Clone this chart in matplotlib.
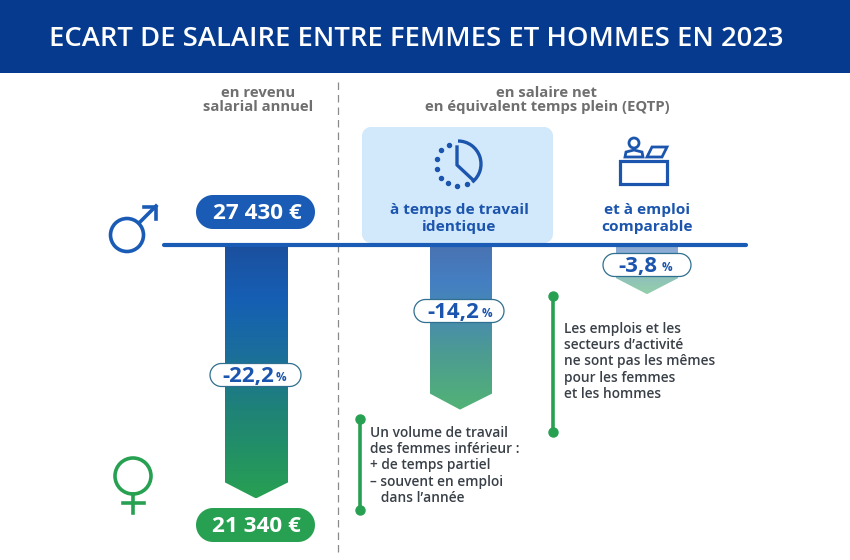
import numpy as np
import matplotlib
matplotlib.use("Agg")
import matplotlib.pyplot as plt
from matplotlib.patches import Polygon, Circle, Rectangle, Arc
from matplotlib.colors import LinearSegmentedColormap

TITLE = "ECART DE SALAIRE ENTRE FEMMES ET HOMMES EN 2023"
gaps = [22.2, 14.2, 3.8]
gap_labels = ["-22,2", "-14,2", "-3,8"]
salary_men = "27 430 €"
salary_women = "21 340 €"
col_heads = ["en revenu\nsalarial annuel", "en salaire net\nen équivalent temps plein (EQTP)"]
sub_heads = ["à temps de travail\nidentique", "et à emploi\ncomparable"]
note_1 = ["Un volume de travail", "des femmes inférieur :", "+ de temps partiel", "– souvent en emploi", "   dans l’année"]
note_2 = ["Les emplois et les", "secteurs d’activité", "ne sont pas les mêmes", "pour les femmes", "et les hommes"]

BLUE = "#1a5bb5"; DARK = "#053a8e"; GREEN = "#27a052"; GREY = "#6f6f6f"; INK = "#3a4048"
FONT = "Open Sans"
plt.rcParams["font.family"] = [FONT, "DejaVu Sans"]

fig = plt.figure(figsize=(8.5, 5.6), dpi=100)
ax = fig.add_axes([0, 0, 1, 1])
ax.set_xlim(0, 850); ax.set_ylim(560, 0); ax.axis("off")

def pill(x0, x1, y0, y1, fc, ec="none", lw=0, z=6, r=None):
    r = (y1 - y0) / 2 if r is None else r
    t = np.linspace(0, np.pi / 2, 24)
    pts = []
    for cx, cy, start in [(x1 - r, y1 - r, 0), (x0 + r, y1 - r, np.pi / 2),
                          (x0 + r, y0 + r, np.pi), (x1 - r, y0 + r, 3 * np.pi / 2)]:
        pts.append(np.column_stack([cx + r * np.cos(t + start), cy + r * np.sin(t + start)]))
    p = Polygon(np.vstack(pts), closed=True, fc=fc, ec=ec, lw=lw, zorder=z)
    ax.add_patch(p)
    return p

# banner
ax.add_patch(Rectangle((0, 0), 850, 73, fc=DARK, ec="none", zorder=1))
ax.text(416, 38.5, TITLE, color="white", fontsize=19.7, fontweight="semibold", ha="center", va="center", zorder=2)

# column heads
ax.text(258, 100, col_heads[0], color=GREY, fontsize=10.7, fontweight="bold", ha="center", va="center", linespacing=1.05)
ax.text(547, 100, col_heads[1], color=GREY, fontsize=10.7, fontweight="bold", ha="center", va="center", linespacing=1.05)
ax.plot([338.5, 338.5], [82, 556], color="#8a8a8a", lw=0.9, dashes=(6, 4), zorder=2)

# highlighted panel
pill(362, 553, 127, 243, "#d2e8fb", r=9, z=1.5)

# gradient bars
cmap = LinearSegmentedColormap.from_list("g", [(0, "#1c4f9e"), (0.22, "#155fb4"), (0.45, "#1b7099"),
                                                (0.65, "#1f8278"), (1, "#27a052")])
BASE = 245
def depth(v):
    return 7 + 11.1 * v
bars = [(gaps[0], 225, 288, 256, 1.0), (gaps[1], 430, 492, 460, 0.8), (gaps[2], 616, 678, 647, 0.5)]
grad = np.linspace(0, 1, 256).reshape(-1, 1)
for v, x0, x1, xc, alpha in bars:
    tip = BASE + depth(v)
    shoulder = tip - 16
    poly = Polygon([(x0, BASE), (x1, BASE), (x1, shoulder), (xc, tip), (x0, shoulder)], closed=True, fc="none", ec="none", zorder=3)
    ax.add_patch(poly)
    im = ax.imshow(grad, extent=(x0, x1, tip, BASE), cmap=cmap, aspect="auto", alpha=alpha, zorder=3)
    im.set_clip_path(poly)
ax.set_xlim(0, 850); ax.set_ylim(560, 0)

# axis line
ax.plot([164, 746], [245, 245], color=BLUE, lw=3, solid_capstyle="round", zorder=5)

# salary pills
pill(196, 315, 195, 229, BLUE)
ax.text(257, 213.5, salary_men, color="white", fontsize=16.2, fontweight="bold", ha="center", va="center", zorder=7)
pill(196, 315, 508, 542, GREEN)
ax.text(256, 526.5, salary_women, color="white", fontsize=16.2, fontweight="bold", ha="center", va="center", zorder=7)

# gap labels
for lab, (x0, x1, yc, tx, px) in zip(gap_labels, [(210, 301, 375, 248, 281), (414, 504, 311, 453, 487), (603, 691, 265, 638, 667)]):
    pill(x0, x1, yc - 11.5, yc + 11.5, "white", ec="#2f6f8f", lw=0.9)
    ax.text(tx, yc + 1.5, lab, color="#1c55ad", fontsize=16, fontweight="bold", ha="center", va="center", zorder=7)
    ax.text(px, yc + 2.5, "%", color="#1c55ad", fontsize=8.5, fontweight="bold", ha="center", va="center", zorder=7)

# gender symbols
ax.add_patch(Circle((127, 235), 16.5, fc="none", ec=BLUE, lw=2.6, zorder=4))
ax.plot([139, 156], [223, 206], color=BLUE, lw=2.6, zorder=4)
ax.plot([144, 156, 156], [206.5, 206.5, 219], color=BLUE, lw=2.6, zorder=4)
ax.add_patch(Circle((133, 476), 18, fc="none", ec=GREEN, lw=2.6, zorder=4))
ax.plot([133, 133], [494, 513], color=GREEN, lw=2.6, zorder=4)
ax.plot([123, 144], [503, 503], color=GREEN, lw=2.6, zorder=4)

# clock icon
ICON = "#1c55ad"
cx, cy, r = 458, 164, 23
ax.add_patch(Arc((cx, cy), 2 * r, 2 * r, theta1=-90, theta2=52, color=ICON, lw=2.4, zorder=4))
ax.plot([457, 457, 472], [147, 165, 179], color=ICON, lw=2.4, zorder=4)
dot_x = [449, 441, 437, 437, 441, 448, 457, 467]
dot_y = [145, 150, 159, 169, 178, 183, 186, 184]
ax.plot(dot_x, dot_y, ls="none", marker="o", ms=2.9, color=ICON, zorder=4)

# desk icon
ax.add_patch(Rectangle((620, 161), 47, 23, fc="none", ec=ICON, lw=2.3, zorder=4))
ax.add_patch(Circle((634, 143), 5, fc="none", ec=ICON, lw=2.0, zorder=4))
ax.add_patch(Polygon([(625, 157), (626, 152), (634, 150), (642, 152), (643, 157)], closed=True, fc="none", ec=ICON, lw=2.0, zorder=4))
ax.add_patch(Polygon([(652, 147), (667, 147), (662, 157), (647, 157)], closed=True, fc="none", ec=ICON, lw=2.0, zorder=4))

# subheads
ax.text(459, 218.5, sub_heads[0], color="#1c55ad", fontsize=11.1, fontweight="bold", ha="center", va="center", linespacing=1.3, zorder=4)
ax.text(647, 218.5, sub_heads[1], color="#1c55ad", fontsize=11.1, fontweight="bold", ha="center", va="center", linespacing=1.3, zorder=4)

# notes
def note(x, y0, y1, tx, ty, lines):
    ax.plot([x, x], [y0, y1], color=GREEN, lw=2.6, marker="o", ms=6.5, zorder=4)
    for i, line in enumerate(lines):
        ax.text(tx, ty + i * 16.2, line, color=INK, fontsize=9.9, fontweight="semibold", ha="left", va="center", zorder=4)

note(360, 419, 510, 370, 433, note_1)
note(553, 296, 432, 564, 329, note_2)

fig.savefig("out.png", dpi=100)
